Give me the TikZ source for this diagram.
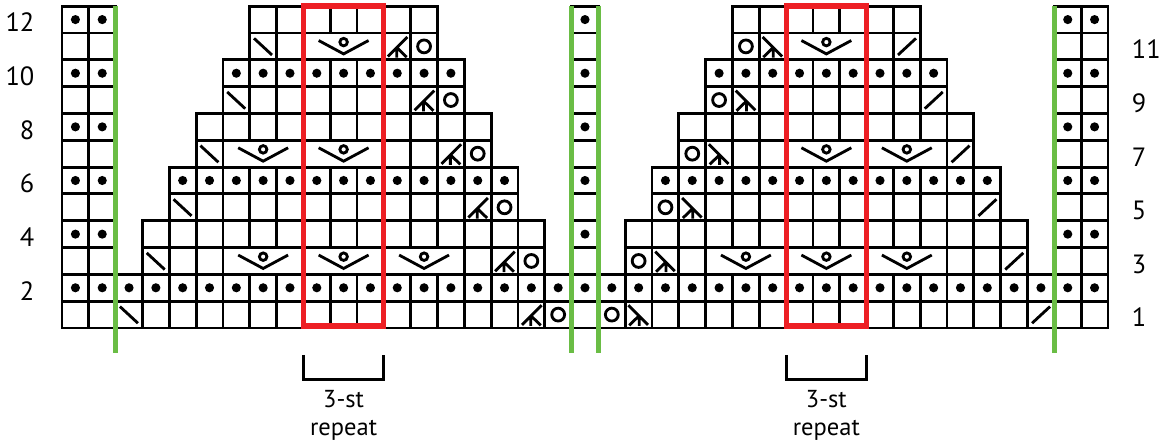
\documentclass[tikz,border=0pt]{standalone}
\usepackage{fontspec}
\setmainfont{PT Sans}
\usepackage{xcolor}
\usetikzlibrary{calc}

\definecolor{repred}{RGB}{237,31,36}
\definecolor{edgegreen}{RGB}{106,189,69}

\newcommand{\sq}[2]{\draw[box] (#1,#2) rectangle ++(1,1);}
\newcommand{\pst}[2]{\fill (#1+.5,#2+.5) circle (.17);}
\newcommand{\yo}[2]{\draw[sym] (#1+.5,#2+.5) circle (.24);}
\newcommand{\ssk}[2]{\draw[sym] (#1+.16,#2+.8) -- (#1+.83,#2+.18);}
\newcommand{\ktog}[2]{\draw[sym] (#1+.17,#2+.18) -- (#1+.84,#2+.8);}
\newcommand{\decl}[2]{\draw[sym] (#1+.15,#2+.12) -- (#1+.88,#2+.85)
  (#1+.48,#2+.46) -- (#1+.48,#2+.08) (#1+.48,#2+.46) -- (#1+.85,#2+.1);}
\newcommand{\decr}[2]{\draw[sym] (#1+.85,#2+.12) -- (#1+.12,#2+.85)
  (#1+.52,#2+.46) -- (#1+.52,#2+.08) (#1+.52,#2+.46) -- (#1+.15,#2+.1);}
\newcommand{\vo}[2]{\draw[box] (#1,#2) rectangle ++(3,1);
  \draw[sym] (#1+.57,#2+.72) -- (#1+1.5,#2+.22) -- (#1+2.43,#2+.72);
  \draw[sym] (#1+1.5,#2+.66) circle (.14);}

\begin{document}
\begin{tikzpicture}[x=0.5cm,y=0.5cm,
  box/.style={line width=1.5pt},
  sym/.style={line width=1.5pt},
  repbox/.style={draw=repred,line width=2.8pt},
  edgeline/.style={draw=edgegreen,line width=2.8pt},
  rownum/.style={inner sep=0pt,font=\fontsize{14}{16}\selectfont},
  reptext/.style={inner sep=0pt,anchor=base,font=\fontsize{13}{15}\selectfont}]
\useasboundingbox (-2.312,-4.325) rectangle (41.126,12.23);
% rows 1-2 run across the whole chart
\foreach \c in {0,...,38} {\sq{\c}{0} \sq{\c}{1} \pst{\c}{1}}
% edge sts and centre st
\foreach \c in {0,1,19,37,38} {
  \foreach \y in {2,...,11} {\sq{\c}{\y}}
  \foreach \y in {3,5,...,11} {\pst{\c}{\y}}
}
% plain cells, left block mirrored to the right
\foreach \y/\a/\b in {3/3/17,4/4/16,5/4/16,7/5/15,8/6/14,9/6/14,11/7/13} {
  \foreach \c in {\a,...,\b} {\sq{\c}{\y} \sq{38-\c}{\y}}
}
% purl rows 6 and 10
\foreach \y/\a/\b in {5/4/16,9/6/14} {
  \foreach \c in {\a,...,\b} {\pst{\c}{\y} \pst{38-\c}{\y}}
}
% rows 3, 7, 11
\foreach \c in {3,4,5,15,16,17} {\sq{\c}{2} \sq{38-\c}{2}}
\foreach \c in {5,12,13,14,15} {\sq{\c}{6} \sq{38-\c}{6}}
\foreach \c in {7,8,12,13} {\sq{\c}{10} \sq{38-\c}{10}}
\foreach \c/\y in {6/2,9/2,12/2,6/6,9/6,9/10} {\vo{\c}{\y} \vo{36-\c}{\y}}
% decreases and yarnovers on the odd rows
\foreach \y in {0,2,...,10} {
  \pgfmathtruncatemacro{\h}{\y/2}
  \ssk{\h+2}{\y} \decl{17-\h}{\y} \yo{18-\h}{\y}
  \yo{20+\h}{\y} \decr{21+\h}{\y} \ktog{36-\h}{\y}
}
% repeat boxes and edge lines
\draw[repbox] (9,.07) rectangle (12,12.01);
\draw[repbox] (27,.07) rectangle (30,12.01);
\foreach \x in {2,19,20,37} \draw[edgeline] (\x,12.02) -- (\x,-.95);
% row numbers
\foreach \r in {2,4,...,12} \node[rownum,anchor=base east] (n\r) at (-1.02,\r-.96) {\r};
\foreach \r in {1,3,...,11} \node[rownum,anchor=base west] (n\r) at (39.88,\r-.96) {\r};
% repeat brackets
\foreach \x/\s in {9/a,27/b} {
  \draw[box] (\x,-1) -- (\x,-1.93) -- (\x+3,-1.93) -- (\x+3,-1);
  \node[reptext] (st\s) at (\x+1.5,-2.98) {3-st};
  \node[reptext] (rep\s) at (\x+1.5,-3.99) {repeat};
}
\end{tikzpicture}
\end{document}
